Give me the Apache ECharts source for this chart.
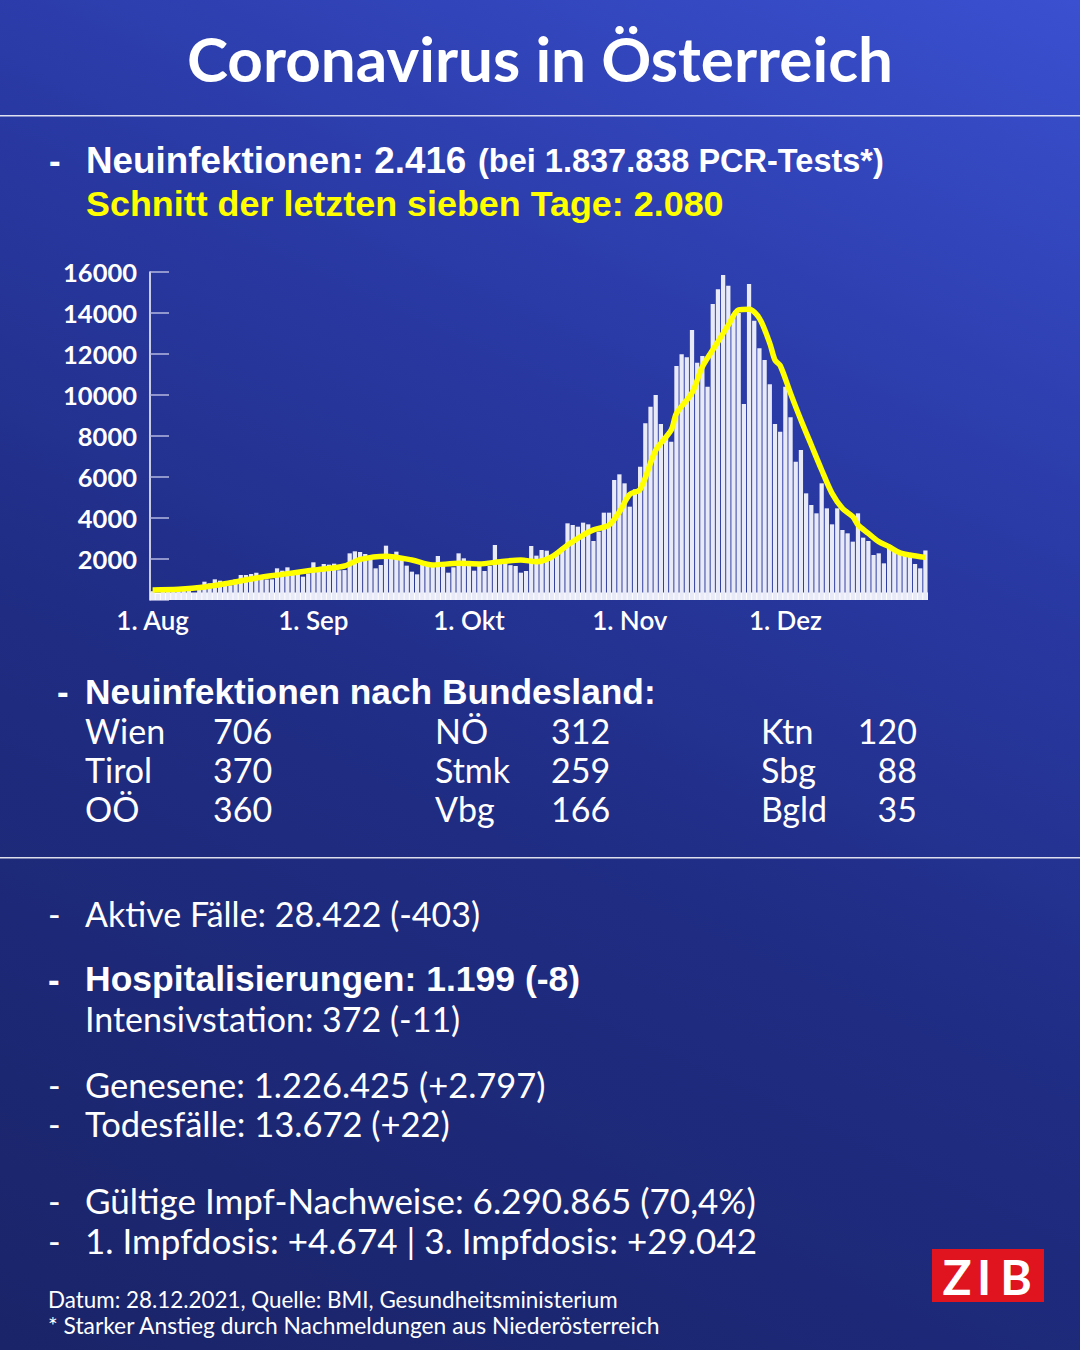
<!DOCTYPE html>
<html>
<head>
<meta charset="utf-8">
<script src="https://cdn.jsdelivr.net/npm/echarts@6/dist/echarts.min.js"></script>
<style>
html,body{margin:0;padding:0;}
#wrap{width:1080px;height:1350px;background:linear-gradient(205deg,#3a50d0 0%,#2a3aa6 30%,#1f2c82 60%,#1a2468 100%);}
#chart{width:1080px;height:1350px;}
</style>
</head>
<body>
<div id="wrap"><div id="chart"></div></div>
<script>
// ---- data ----
const monthNames = ['Aug', 'Sep', 'Okt', 'Nov', 'Dez'];
const monthLengths = [31, 30, 31, 30, 28]; // Aug 1 .. Dec 28, 2021
const tickLabels = ['1. Aug', '1. Sep', '1. Okt', '1. Nov', '1. Dez'];

const dailyCases = [
  430, 300, 470, 600, 560, 550, 510, 450, 340,
  650, 893, 813, 1008, 943, 780, 720, 1000, 1220, 1220, 1268, 1333, 1100, 1000, 1008, 1545, 1430, 1593, 1400, 1350, 1138, 1300,
  1838, 1550, 1756, 1724, 1772, 1450, 1460, 2276, 2374, 2341, 2244, 1950, 1545, 1707, 2650, 2100, 2358, 2050, 1675, 1382, 1252, 1770, 1680, 1650, 2146, 1789, 1333, 1594, 2276, 2033, 1800, 1430,
  1659, 1415, 1659, 2683, 1757, 1800, 1700, 1660, 1333, 1415, 2634, 2163, 2439, 2406, 2114, 2195, 2570, 3740, 3659, 3577, 3773, 3692, 2878, 3333, 4260, 4260, 5854, 6130, 5691, 4553, 5398,
  6504, 8618, 9431, 10000, 8585, 8000, 7724, 11415, 11984, 11838, 13171, 11577, 11902, 10406, 14439, 15155, 15854, 15333, 13900, 14000, 9561, 15415, 13626, 12276, 11707, 10520, 8585, 8211, 10406, 8910,
  6748, 7317, 5203, 4634, 4228, 5691, 4471, 3691, 4471, 3415, 3252, 2846, 4228, 3041, 2878, 2195, 2276, 1789, 2569, 2358, 2195, 2146, 2114, 1756, 1545, 2416
];

// 7-day average, read at selected days (index from 1 Aug)
const avgDays   = [0, 5, 10, 15, 20, 25, 31, 37, 40, 45, 50, 54, 59, 63, 67, 71, 74, 77, 80, 83, 85, 88, 90, 92, 94, 97, 100, 101, 104, 106, 109, 111, 113, 115, 117, 119, 120, 121, 123, 125, 127, 129, 131, 133, 135, 136, 138, 140, 142, 144, 146, 149];
const avgValues = [490, 520, 630, 840, 1070, 1250, 1460, 1660, 1980, 2140, 1950, 1710, 1790, 1760, 1870, 1950, 1870, 2110, 2680, 3170, 3420, 3660, 4300, 5150, 5400, 7300, 8300, 9100, 10100, 11380, 12600, 13420, 14150, 14180, 13740, 12520, 11700, 11440, 10080, 8780, 7560, 6340, 5200, 4470, 4065, 3660, 3250, 2850, 2600, 2310, 2195, 2080];

const yTicks = [2000, 4000, 6000, 8000, 10000, 12000, 14000, 16000];

// ---- build ----
const categories = [];
const monthStartIdx = [];
monthLengths.forEach((len, m) => {
  monthStartIdx.push(categories.length);
  for (let d = 1; d <= len; d++) categories.push(d + '. ' + monthNames[m]);
});
const avgSeries = categories.map(() => null);
avgDays.forEach((d, i) => { avgSeries[d] = avgValues[i]; });

const FONT = 'Lato';
const BFONT = '"Liberation Sans"';
const W = '#ffffff';
function txt(x, y, text, size, weight, color, align) {
  const fam = weight === 'bold' ? BFONT : FONT;
  return {
    type: 'text', x: x, y: y,
    style: { text: text, fill: color || W, font: (weight || 'normal') + ' ' + size + 'px ' + fam, textVerticalAlign: 'middle', textAlign: align || 'left' }
  };
}

const graphics = [
  { type: 'text', x: 540, y: 58, style: { text: 'Coronavirus in Österreich', fill: W, font: 'bold 62px ' + FONT, textAlign: 'center', textVerticalAlign: 'middle' } },
  { type: 'rect', shape: { x: 0, y: 115, width: 1080, height: 1.5 }, style: { fill: 'rgba(255,255,255,0.85)' } },
  { type: 'rect', shape: { x: 0, y: 857, width: 1080, height: 1.5 }, style: { fill: 'rgba(255,255,255,0.85)' } },
  txt(49, 160, '-', 35, 'bold'),
  txt(86, 160, 'Neuinfektionen: 2.416', 36.8, 'bold'),
  txt(478, 161, '(bei 1.837.838 PCR-Tests*)', 32.5, 'bold'),
  txt(86, 204, 'Schnitt der letzten sieben Tage: 2.080', 35.9, 'bold', '#ffff00'),
  txt(57, 691, '-', 35, 'bold'),
  txt(85, 691, 'Neuinfektionen nach Bundesland:', 35.3, 'bold'),
  txt(85, 730, 'Wien', 34), txt(213, 730, '706', 34),
  txt(85, 769, 'Tirol', 34), txt(213, 769, '370', 34),
  txt(85, 808, 'OÖ', 34), txt(213, 808, '360', 34),
  txt(435, 730, 'NÖ', 34), txt(551, 730, '312', 34),
  txt(435, 769, 'Stmk', 34), txt(551, 769, '259', 34),
  txt(435, 808, 'Vbg', 34), txt(551, 808, '166', 34),
  txt(761, 730, 'Ktn', 34), txt(917, 730, '120', 34, 'normal', W, 'right'),
  txt(761, 769, 'Sbg', 34), txt(917, 769, '88', 34, 'normal', W, 'right'),
  txt(761, 808, 'Bgld', 34), txt(917, 808, '35', 34, 'normal', W, 'right'),
  txt(48, 913, '-', 34), txt(85, 913, 'Aktive Fälle: 28.422 (-403)', 34),
  txt(48, 979, '-', 35, 'bold'), txt(85, 979, 'Hospitalisierungen: 1.199 (-8)', 35.5, 'bold'),
  txt(85, 1018, 'Intensivstation: 372 (-11)', 34),
  txt(48, 1084, '-', 34), txt(85, 1084, 'Genesene: 1.226.425 (+2.797)', 34.5),
  txt(48, 1123, '-', 34), txt(85, 1123, 'Todesfälle: 13.672 (+22)', 34.5),
  txt(48, 1200, '-', 34), txt(85, 1200, 'Gültige Impf-Nachweise: 6.290.865 (70,4%)', 35),
  txt(48, 1240, '-', 34), txt(85, 1240, '1. Impfdosis: +4.674 | 3. Impfdosis: +29.042', 35),
  txt(48, 1299, 'Datum: 28.12.2021, Quelle: BMI, Gesundheitsministerium', 22.4),
  txt(48, 1325, '* Starker Anstieg durch Nachmeldungen aus Niederösterreich', 22.8),
  { type: 'rect', shape: { x: 932, y: 1249, width: 112, height: 53 }, style: { fill: '#e0141e' } },
  { type: 'text', x: 957, y: 1276, style: { text: 'Z', fill: W, font: 'bold 48px ' + FONT, textAlign: 'center', textVerticalAlign: 'middle' } },
  { type: 'text', x: 984, y: 1276, style: { text: 'I', fill: W, font: 'bold 48px ' + FONT, textAlign: 'center', textVerticalAlign: 'middle' } },
  { type: 'text', x: 1016, y: 1276, style: { text: 'B', fill: W, font: 'bold 48px ' + FONT, textAlign: 'center', textVerticalAlign: 'middle' } }
];

const chart = echarts.init(document.getElementById('chart'), null, { renderer: 'svg' });
chart.setOption({
  backgroundColor: 'transparent',
  animation: false,
  textStyle: { fontFamily: FONT },
  grid: { left: 150, right: 152, top: 272, bottom: 750 },
  xAxis: {
    type: 'category',
    data: categories,
    boundaryGap: true,
    axisLine: { show: false },
    axisTick: { show: false },
    axisLabel: {
      color: W, fontSize: 26, fontWeight: 600, fontFamily: FONT, margin: 7,
      interval: (idx) => monthStartIdx.indexOf(idx) >= 0,
      formatter: (val, idx) => tickLabels[monthStartIdx.indexOf(idx)] || ''
    }
  },
  yAxis: {
    type: 'value', min: 0, max: 16000, interval: 2000,
    axisLine: { show: true, lineStyle: { color: W, width: 1.5 } },
    axisTick: { show: true, inside: true, length: 19, lineStyle: { color: '#b4b9e0', width: 1.5 } },
    splitLine: { show: false },
    axisLabel: {
      color: W, fontSize: 25.5, fontWeight: 'bold', fontFamily: FONT, margin: 13,
      formatter: (v) => (yTicks.indexOf(v) >= 0 ? String(v) : '')
    }
  },
  series: [
    {
      type: 'bar', data: dailyCases, barCategoryGap: '18%',
      itemStyle: { color: '#e8eaf7' },
      markArea: { silent: true, itemStyle: { color: '#ffffff' }, data: [[{ yAxis: 0 }, { yAxis: 370 }]] }
    },
    {
      type: 'line', data: avgSeries, connectNulls: true, smooth: 0.3, symbol: 'none',
      lineStyle: { color: '#ffff00', width: 5.5 }, z: 5
    }
  ],
  graphic: graphics
});
</script>
</body>
</html>
